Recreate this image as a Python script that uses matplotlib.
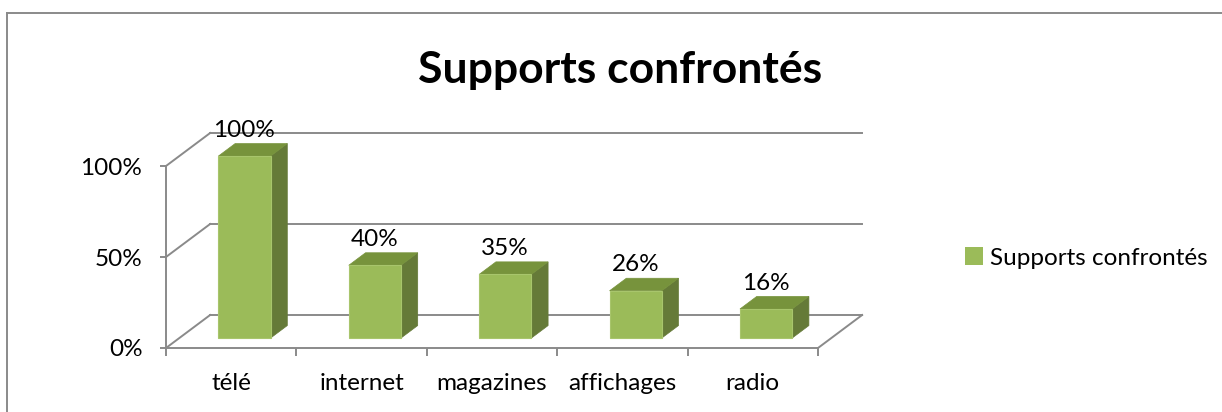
import matplotlib
matplotlib.use("Agg")
import matplotlib.pyplot as plt
from matplotlib.patches import Polygon, Patch
from matplotlib.lines import Line2D

plt.rcParams['font.family'] = ['Lato', 'DejaVu Sans']

categories = ['télé', 'internet', 'magazines', 'affichages', 'radio']
values = [1.00, 0.40, 0.35, 0.26, 0.16]
value_labels = ['100%', '40%', '35%', '26%', '16%']
y_ticks = [0, 0.5, 1.0]
y_tick_labels = ['0%', '50%', '100%']
series_name = 'Supports confrontés'

green_front = '#9bbb59'
green_top = '#77933c'
green_side = '#657a38'
grid_grey = '#8a8a8a'
fs = 17.5

# oblique projection: depth offset of the back wall in data units
DX = 0.3385
DY = 0.1813
bar_w = 0.4
d0, d1 = 0.30, 0.68


def proj(x, y, d):
    return (x + d * DX, y + d * DY)


fig = plt.figure(figsize=(12.22, 4.12), dpi=100)
ax = fig.add_axes([166 / 1222, 64 / 412, 652 / 1222, 182 / 412])
ax.set_xlim(-0.5, len(categories) - 0.5)
ax.set_ylim(0, 1)

# walls and floor
x_lo, x_hi = -0.5, len(categories) - 0.5
for v in y_ticks:
    ax.plot([x_lo + DX, x_hi + DX], [v + DY, v + DY], color=grid_grey,
            lw=1.4, clip_on=False, zorder=1)
    ax.plot([x_lo, x_lo + DX], [v, v + DY], color=grid_grey,
            lw=1.4, clip_on=False, zorder=1)
ax.plot([x_hi, x_hi + DX], [0, DY], color=grid_grey, lw=1.4,
        clip_on=False, zorder=1)

# 3d bars
for i, (v, lab) in enumerate(zip(values, value_labels)):
    x0 = i - bar_w / 2
    x1 = i + bar_w / 2
    front = [proj(x0, 0, d0), proj(x1, 0, d0), proj(x1, v, d0), proj(x0, v, d0)]
    top = [proj(x0, v, d0), proj(x1, v, d0), proj(x1, v, d1), proj(x0, v, d1)]
    side = [proj(x1, 0, d0), proj(x1, 0, d1), proj(x1, v, d1), proj(x1, v, d0)]
    ax.add_patch(Polygon(side, closed=True, fc=green_side, ec=green_side,
                         lw=0.5, clip_on=False, zorder=3))
    ax.add_patch(Polygon(top, closed=True, fc=green_top, ec=green_top,
                         lw=0.5, clip_on=False, zorder=3))
    ax.add_patch(Polygon(front, closed=True, fc=green_front, ec='#a8c56c',
                         lw=0.8, clip_on=False, zorder=4))
    lx, ly = proj(i, v, d1)
    ax.annotate(lab, (proj(i, v, d0)[0], ly), xytext=(0, 2),
                textcoords='offset points', ha='center', va='bottom',
                fontsize=fs, color='black', annotation_clip=False, zorder=5)

for s in ['top', 'right']:
    ax.spines[s].set_visible(False)
for s in ['left', 'bottom']:
    ax.spines[s].set_color(grid_grey)
    ax.spines[s].set_linewidth(1.4)

ax.set_yticks(y_ticks)
ax.set_yticklabels(y_tick_labels, fontsize=fs)
ax.set_xticks([i - 0.5 for i in range(len(categories) + 1)])
ax.set_xticklabels([])
ax.set_xticks(range(len(categories)), minor=True)
ax.set_xticklabels(categories, minor=True, fontsize=fs)
ax.tick_params(axis='x', which='major', direction='out', length=6,
               color=grid_grey, width=1.4)
ax.tick_params(axis='x', which='minor', length=0, pad=18)
ax.tick_params(axis='y', direction='out', length=4, color=grid_grey,
               width=1.4, pad=13)
ax.set_facecolor('none')

fig.text(620 / 1222, 1 - 70 / 412, series_name, ha='center', va='center',
         fontsize=32, fontweight='bold')

ax.legend(handles=[Patch(facecolor=green_front)], labels=[series_name],
          loc='center left', bbox_to_anchor=(960 / 1222, 1 - 258 / 412),
          bbox_transform=fig.transFigure, frameon=False, fontsize=fs,
          handlelength=0.75, handleheight=0.75, handletextpad=0.3,
          borderaxespad=0, borderpad=0.2)

# chart frame
fig.add_artist(Line2D([7 / 1222, 7 / 1222], [0, 1 - 13 / 412],
                      transform=fig.transFigure, color=grid_grey, lw=1.4))
fig.add_artist(Line2D([7 / 1222, 1], [1 - 13 / 412, 1 - 13 / 412],
                      transform=fig.transFigure, color=grid_grey, lw=1.4))

fig.savefig('out.png', dpi=100)
